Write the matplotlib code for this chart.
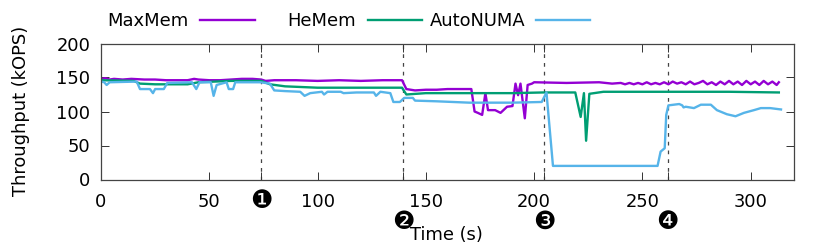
import matplotlib
matplotlib.use("Agg")
import matplotlib.pyplot as plt
from matplotlib.lines import Line2D

### Data

maxmem_t = [0, 2, 4, 6, 10, 14, 20, 25, 30, 40, 43, 45, 50, 55, 60, 65, 70, 74, 76, 80, 90, 100, 110, 120, 130, 139, 141,
            145, 150, 155, 160, 165, 171, 172.5, 174, 176, 177.5, 178.7, 182, 184.5, 187.5, 190, 191.4, 192.6, 193.7,
            195.7, 197, 199, 200, 215, 230, 236, 240, 242, 244, 246, 248, 250, 252, 254, 256, 258, 260, 262, 264, 266,
            268, 270, 272, 274, 276, 278, 280, 282, 284, 286, 288, 290, 292, 294, 296, 298, 300, 302, 304, 306, 308,
            310, 312, 313]
maxmem_v = [148, 149, 147, 148, 147, 148, 147, 147, 146, 146, 148, 147, 146, 146, 147, 148, 148, 147, 145, 146, 146, 145,
            146, 145, 146, 146, 133, 131, 132, 132, 133, 133, 133, 100, 98, 95, 127, 102, 102, 98, 107, 108, 141, 124,
            141, 90, 139, 141, 143, 142, 143, 141, 142, 140, 142, 140, 142, 140, 143, 140, 142, 140, 143, 140, 144, 141,
            143, 140, 144, 140, 142, 145, 140, 143, 139, 144, 140, 145, 140, 144, 139, 145, 140, 144, 139, 145, 140,
            144, 139, 143]

hemem_t = [0, 15, 18, 25, 40, 45, 60, 74, 78, 85, 100, 120, 139, 141, 150, 170, 190, 204, 219, 221.5, 223, 224, 225.5,
           232, 260, 290, 313]
hemem_v = [146, 145, 141, 140, 140, 143, 145, 145, 140, 137, 135, 135, 135, 125, 127, 127, 127, 128, 128, 92, 127, 57,
           126, 129, 129, 129, 128]

autonuma_t = [0, 1.5, 2.6, 4, 16.5, 18, 22.6, 24, 25, 29, 30.6, 42, 44, 45.5, 50.7, 52, 53.4, 58, 59, 61, 62, 73.6, 78,
              80, 85, 92, 94, 96.6, 102, 103, 104.6, 110.7, 112, 118, 126, 127, 129, 133.6, 135, 138, 140, 144, 145,
              155, 170, 190, 203.5, 205.7, 208.7, 230, 257, 258.4, 260.3, 261, 262, 267, 268.4, 269, 270, 273.8, 277,
              281.6, 284.4, 289, 293, 296.9, 301.5, 304.7, 309, 314]
autonuma_v = [144, 143, 139, 143, 144, 133, 133, 127, 133, 133, 142, 143, 133, 143, 143, 123, 139, 143, 133, 133, 143,
              143, 141, 131, 130, 129, 123, 127, 129, 125, 129, 129, 127, 128, 128, 123, 129, 127, 114, 114, 120, 120,
              116, 115, 113, 113, 114, 128, 20, 20, 20, 41, 46, 95, 109, 111, 109, 106, 107, 105, 110, 110, 102, 96, 93,
              98, 102, 105, 105, 103]

event_times = [74, 139.5, 204.5, 261.7]
event_marks = ["\u2776", "\u2777", "\u2778", "\u2779"]

xticks = [0, 50, 100, 150, 200, 250, 300]
yticks = [0, 50, 100, 150, 200]

#### Plotting

W, H = 830, 249
FS = 12.9
LW = 1.7

plt.rcParams["font.family"] = "DejaVu Sans"
plt.rcParams["font.size"] = FS

fig = plt.figure(figsize=(W / 100, H / 100), dpi=100)
ax = fig.add_axes([101 / W, 1 - 179.5 / H, (794 - 101) / W, (179.5 - 43.5) / H])

ax.plot(maxmem_t, maxmem_v, color="#9400D3", lw=LW)
ax.plot(hemem_t, hemem_v, color="#009E73", lw=LW)
ax.plot(autonuma_t, autonuma_v, color="#56B4E9", lw=LW)

for t in event_times:
    ax.axvline(t, color="#444444", lw=0.9, dashes=(3, 4), zorder=1)

ax.set_xlim(0, 320)
ax.set_ylim(0, 200)
ax.set_xticks(xticks)
ax.set_yticks(yticks)
ax.set_xticks(event_times, minor=True)
ax.tick_params(which="both", direction="in", top=True, right=True, length=5.5, width=0.7, color="#333333")
ax.tick_params(axis="x", pad=10)
ax.tick_params(axis="y", pad=7.5)
for spine in ax.spines.values():
    spine.set_linewidth(0.9)
    spine.set_color("#444444")

# event markers sit under the axis, the first one higher than the others
mark_y = [201, 222, 222, 222]
trans = ax.get_xaxis_transform()
for t, m, y in zip(event_times, event_marks, mark_y):
    ax.text(t, (179.5 - y) / 136, m, transform=trans, ha="center", va="center", fontsize=18, clip_on=False)

fig.text(446 / W, 1 - 235 / H, "Time (s)", ha="center", va="center")
fig.text(21 / W, 1 - 111 / H, "Throughput (kOPS)", rotation=90, ha="center", va="center")

# legend by hand: labels in front of the line samples, gnuplot style
names = ["MaxMem", "HeMem", "AutoNUMA"]
colors = ["#9400D3", "#009E73", "#56B4E9"]
text_right = [188, 356, 525]
line_span = [(200, 255), (368, 422), (536, 590)]
for name, c, xr, (x0, x1) in zip(names, colors, text_right, line_span):
    fig.text(xr / W, 1 - 21 / H, name, ha="right", va="center")
    fig.add_artist(Line2D([x0 / W, x1 / W], [1 - 19.7 / H] * 2, color=c, lw=LW, transform=fig.transFigure))

fig.savefig("out.png", dpi=100)
